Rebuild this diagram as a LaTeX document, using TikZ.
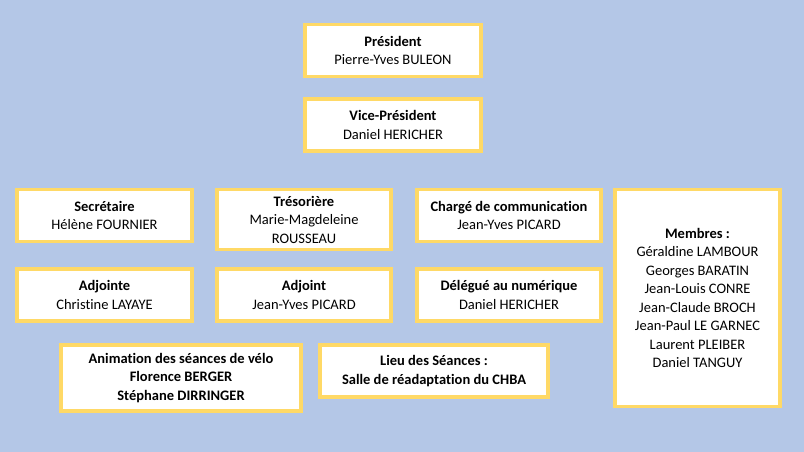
\documentclass[tikz,border=0pt]{standalone}
\usepackage{fontspec}
\setmainfont[Ligatures=NoCommon]{Carlito}
\usepackage{tikz}
\usetikzlibrary{positioning}
\definecolor{bgblue}{HTML}{B4C7E7}
\definecolor{boxgold}{HTML}{FFD966}

\begin{document}
\begin{tikzpicture}[x=1pt,y=-1pt,align=center,
    box/.style={rectangle,draw=boxgold,line width=3.5pt,fill=white,inner sep=0pt,
        font=\fontsize{14.5}{18.5}\selectfont}]
    \fill[bgblue] (0,0) rectangle (804,452);
    \useasboundingbox (0,0) rectangle (804,452);
    \node[box,minimum width=176pt,minimum height=52pt] at (393, 50.5) (pres) {\textbf{Président}\\Pierre-Yves BULEON};
    \node[box,minimum width=176pt,minimum height=52pt] at (393, 125) (vice) {\textbf{Vice-Président}\\Daniel HERICHER};
    \node[box,minimum width=175pt,minimum height=52pt] at (104.5, 215.5) (secr) {\textbf{Secrétaire}\\Hélène FOURNIER};
    \node[box,minimum width=174pt,minimum height=60pt] at (304, 219.5) (treso) {\textbf{Trésorière}\\Marie-Magdeleine\\ROUSSEAU};
    \node[box,minimum width=184pt,minimum height=52pt] at (509, 215.5) (comm) {\textbf{Chargé de communication}\\Jean-Yves PICARD};
    \node[box,minimum width=165pt,minimum height=217pt] at (697.5, 298) (membres) {\textbf{Membres :}\\Géraldine LAMBOUR\\Georges BARATIN\\Jean-Louis CONRE\\Jean-Claude BROCH\\Jean-Paul LE GARNEC\\Laurent PLEIBER\\Daniel TANGUY};
    \node[box,minimum width=175pt,minimum height=52pt] at (104.5, 295) (adjte) {\textbf{Adjointe}\\Christine LAYAYE};
    \node[box,minimum width=174pt,minimum height=52pt] at (304, 295) (adjt) {\textbf{Adjoint}\\Jean-Yves PICARD};
    \node[box,minimum width=184pt,minimum height=52pt] at (509, 295) (numer) {\textbf{Délégué au numérique}\\Daniel HERICHER};
    \node[box,minimum width=240pt,minimum height=66pt] at (181, 378) (velo) {\textbf{Animation des séances de vélo}\\\textbf{Florence BERGER}\\\textbf{Stéphane DIRRINGER}};
    \node[box,minimum width=228pt,minimum height=52pt] at (434, 371) (lieu) {\textbf{Lieu des Séances :}\\\textbf{Salle de réadaptation du CHBA}};
\end{tikzpicture}
\end{document}
